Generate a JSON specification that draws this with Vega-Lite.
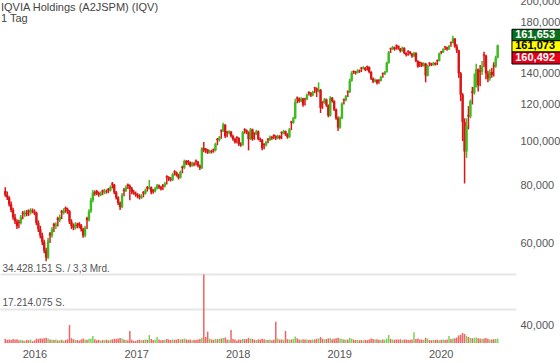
{
"$schema":"https://vega.github.io/schema/vega-lite/v6.json",
"width":516,"height":343,
"autosize":{"type":"none"},
"padding":{"left":0,"top":0,"right":44,"bottom":20},
"background":"white",
"config":{"locale":{"number":{"decimal":",","thousands":".","grouping":[3],"currency":["","€"]}},"view":{"stroke":null},"font":"Liberation Sans"},
"title":{"text":["IQVIA Holdings (A2JSPM) (IQV)","1 Tag"],"anchor":"start","frame":"group","orient":"top","offset":-37,"dx":1,"fontSize":11,"fontWeight":"normal","color":"#444","lineHeight":11,"font":"Liberation Sans","baseline":"alphabetic"},
"datasets":{
"badge":[{"k":"h","p":161.653,"d":"2020-07-24"},{"k":"c","p":161.073,"d":"2020-07-24"},{"k":"l","p":160.492,"d":"2020-07-24"}],
"ohlc":[
{"d":"2015-09-18","o":78,"h":79.5,"l":75.8,"c":76.5,"v":2100000},
{"d":"2015-09-25","o":76.5,"h":77.8,"l":74.6,"c":75.5,"v":1600000},
{"d":"2015-10-02","o":75.5,"h":76,"l":72.2,"c":73,"v":1800000},
{"d":"2015-10-09","o":73,"h":74,"l":70.2,"c":71,"v":1500000},
{"d":"2015-10-16","o":71,"h":71.8,"l":67.6,"c":68.5,"v":2000000},
{"d":"2015-10-23","o":68.5,"h":69.6,"l":66.2,"c":67,"v":1700000},
{"d":"2015-10-30","o":67,"h":67.8,"l":64.6,"c":65.5,"v":1900000},
{"d":"2015-11-06","o":67,"h":67.6,"l":64.8,"c":66.5,"v":1400000},
{"d":"2015-11-13","o":66.5,"h":69.2,"l":66,"c":68.5,"v":1600000},
{"d":"2015-11-20","o":70,"h":70.6,"l":67.8,"c":69.5,"v":1300000},
{"d":"2015-11-27","o":69.5,"h":70.8,"l":68.6,"c":70,"v":1100000},
{"d":"2015-12-04","o":70,"h":71,"l":68.8,"c":69.5,"v":1500000},
{"d":"2015-12-11","o":70.8,"h":71.2,"l":68.9,"c":70.2,"v":1400000},
{"d":"2015-12-18","o":70.2,"h":71.6,"l":69.4,"c":70.8,"v":1700000},
{"d":"2015-12-25","o":70.8,"h":71.5,"l":69.8,"c":70.5,"v":900000},
{"d":"2016-01-01","o":70.5,"h":71.2,"l":69.2,"c":70,"v":1300000},
{"d":"2016-01-08","o":70,"h":70.4,"l":65.8,"c":66.5,"v":2200000},
{"d":"2016-01-15","o":66.5,"h":67.4,"l":63.6,"c":64.5,"v":2000000},
{"d":"2016-01-22","o":64.5,"h":65.6,"l":61.6,"c":62.5,"v":2300000},
{"d":"2016-01-29","o":62.5,"h":63.4,"l":59.6,"c":60.5,"v":2100000},
{"d":"2016-02-05","o":60.5,"h":61.2,"l":57.2,"c":58,"v":2400000},
{"d":"2016-02-12","o":58,"h":58.8,"l":55,"c":56,"v":2600000},
{"d":"2016-02-19","o":56,"h":61.8,"l":55.6,"c":61,"v":2200000},
{"d":"2016-02-26","o":63.2,"h":63.6,"l":60.2,"c":62.5,"v":1800000},
{"d":"2016-03-04","o":62.5,"h":65.2,"l":61.8,"c":64.5,"v":1600000},
{"d":"2016-03-11","o":66.2,"h":66.6,"l":63.6,"c":65.5,"v":1500000},
{"d":"2016-03-18","o":65.5,"h":66.8,"l":64.6,"c":66,"v":1700000},
{"d":"2016-03-25","o":68.2,"h":68.6,"l":65.4,"c":67.5,"v":1300000},
{"d":"2016-04-01","o":67.5,"h":69.4,"l":66.8,"c":68.5,"v":1400000},
{"d":"2016-04-08","o":70.6,"h":71,"l":67.8,"c":70,"v":1600000},
{"d":"2016-04-15","o":70,"h":71.6,"l":69.4,"c":70.8,"v":1200000},
{"d":"2016-04-22","o":71.8,"h":72.2,"l":70,"c":71.2,"v":1500000},
{"d":"2016-04-29","o":71.2,"h":71.8,"l":69.6,"c":70.5,"v":1800000},
{"d":"2016-05-06","o":70.5,"h":71,"l":66.2,"c":67,"v":9000000},
{"d":"2016-05-13","o":67,"h":67.8,"l":64.6,"c":65.5,"v":2400000},
{"d":"2016-05-20","o":65.5,"h":66.4,"l":64.2,"c":65,"v":1900000},
{"d":"2016-05-27","o":65,"h":66.8,"l":64.4,"c":66,"v":1600000},
{"d":"2016-06-03","o":66,"h":66.6,"l":64.8,"c":65.5,"v":1500000},
{"d":"2016-06-10","o":66.4,"h":66.8,"l":64.8,"c":65.8,"v":1300000},
{"d":"2016-06-17","o":65.8,"h":66.2,"l":63.8,"c":64.5,"v":1700000},
{"d":"2016-06-24","o":64.5,"h":65,"l":61.8,"c":62.5,"v":2200000},
{"d":"2016-07-01","o":62.5,"h":65.6,"l":62,"c":65,"v":1800000},
{"d":"2016-07-08","o":68.2,"h":68.6,"l":64.6,"c":67.5,"v":1600000},
{"d":"2016-07-15","o":67.5,"h":71.2,"l":67,"c":70.5,"v":2000000},
{"d":"2016-07-22","o":70.5,"h":75.4,"l":70,"c":74.5,"v":2300000},
{"d":"2016-07-29","o":74.5,"h":78.4,"l":73.8,"c":77.5,"v":3500000},
{"d":"2016-08-05","o":77.5,"h":78.2,"l":76.2,"c":77,"v":1900000},
{"d":"2016-08-12","o":78,"h":78.4,"l":76.4,"c":77.3,"v":1400000},
{"d":"2016-08-19","o":77.3,"h":77.8,"l":75.8,"c":76.5,"v":1600000},
{"d":"2016-08-26","o":76.5,"h":77.8,"l":76,"c":77,"v":1200000},
{"d":"2016-09-02","o":78.2,"h":78.6,"l":76.4,"c":77.5,"v":1500000},
{"d":"2016-09-09","o":77.5,"h":78.8,"l":76.8,"c":78,"v":1400000},
{"d":"2016-09-16","o":78,"h":78.6,"l":77,"c":77.8,"v":1700000},
{"d":"2016-09-23","o":78.9,"h":79.2,"l":77.2,"c":78.2,"v":1300000},
{"d":"2016-09-30","o":78.2,"h":80.2,"l":77.8,"c":79.5,"v":1600000},
{"d":"2016-10-07","o":81,"h":81.6,"l":79,"c":80.5,"v":1800000},
{"d":"2016-10-14","o":80.5,"h":80.8,"l":76.8,"c":77.5,"v":2100000},
{"d":"2016-10-21","o":77.5,"h":78,"l":74.8,"c":75.5,"v":2000000},
{"d":"2016-10-28","o":75.5,"h":76,"l":72.8,"c":73.5,"v":2200000},
{"d":"2016-11-04","o":73.5,"h":74,"l":71,"c":72,"v":2500000},
{"d":"2016-11-11","o":72,"h":77.2,"l":71.6,"c":76.5,"v":2300000},
{"d":"2016-11-18","o":78.6,"h":79.2,"l":76,"c":78,"v":1700000},
{"d":"2016-11-25","o":78,"h":80.2,"l":77.6,"c":79.5,"v":1500000},
{"d":"2016-12-02","o":80.6,"h":81,"l":78.8,"c":80,"v":1400000},
{"d":"2016-12-09","o":80,"h":80.6,"l":74.5,"c":79,"v":6000000},
{"d":"2016-12-16","o":79,"h":79.6,"l":76.8,"c":77.5,"v":1600000},
{"d":"2016-12-23","o":77.5,"h":78.4,"l":76.6,"c":77,"v":1100000},
{"d":"2016-12-30","o":77,"h":77.8,"l":75.8,"c":76.5,"v":1000000},
{"d":"2017-01-06","o":76.5,"h":77.2,"l":75.2,"c":76,"v":1500000},
{"d":"2017-01-13","o":76,"h":76.8,"l":74.8,"c":75.5,"v":1700000},
{"d":"2017-01-20","o":75.5,"h":76.8,"l":75,"c":76,"v":1400000},
{"d":"2017-01-27","o":77.6,"h":78,"l":75.6,"c":77,"v":1500000},
{"d":"2017-02-03","o":77,"h":79,"l":76.6,"c":78.3,"v":1800000},
{"d":"2017-02-10","o":79.6,"h":80,"l":77.8,"c":79,"v":1600000},
{"d":"2017-02-17","o":79,"h":82.4,"l":78.6,"c":79.5,"v":4000000},
{"d":"2017-02-24","o":79.5,"h":79.8,"l":76.8,"c":77.5,"v":2000000},
{"d":"2017-03-03","o":78.4,"h":78.8,"l":77,"c":77.8,"v":1500000},
{"d":"2017-03-10","o":77.8,"h":79.6,"l":77.4,"c":79,"v":1600000},
{"d":"2017-03-17","o":79,"h":80.8,"l":78.6,"c":80.2,"v":3000000},
{"d":"2017-03-24","o":80.2,"h":80.6,"l":78.8,"c":79.5,"v":1700000},
{"d":"2017-03-31","o":79.5,"h":80,"l":78.2,"c":78.8,"v":1400000},
{"d":"2017-04-07","o":80.4,"h":80.8,"l":78.4,"c":79.8,"v":1500000},
{"d":"2017-04-14","o":79.8,"h":81.6,"l":79.4,"c":81,"v":1600000},
{"d":"2017-04-21","o":84,"h":84.4,"l":80.6,"c":83.5,"v":2000000},
{"d":"2017-04-28","o":83.5,"h":84,"l":82,"c":82.8,"v":1700000},
{"d":"2017-05-05","o":82.8,"h":83.6,"l":81.8,"c":82.4,"v":1500000},
{"d":"2017-05-12","o":82.4,"h":85.4,"l":82,"c":84.8,"v":1800000},
{"d":"2017-05-19","o":86.1,"h":86.5,"l":84.2,"c":85.5,"v":1600000},
{"d":"2017-05-26","o":85.5,"h":86,"l":83.8,"c":84.5,"v":1700000},
{"d":"2017-06-02","o":84.5,"h":85,"l":82.6,"c":83.3,"v":2000000},
{"d":"2017-06-09","o":83.3,"h":86.4,"l":83,"c":85.8,"v":1800000},
{"d":"2017-06-16","o":88.1,"h":88.5,"l":85.2,"c":87.5,"v":1900000},
{"d":"2017-06-23","o":87.5,"h":91.2,"l":87,"c":90.5,"v":2200000},
{"d":"2017-06-30","o":90.5,"h":91,"l":88.8,"c":89.5,"v":1800000},
{"d":"2017-07-07","o":90.6,"h":91,"l":88.8,"c":90,"v":1500000},
{"d":"2017-07-14","o":90,"h":90.4,"l":87.8,"c":88.5,"v":1700000},
{"d":"2017-07-21","o":88.5,"h":90.2,"l":88,"c":89.5,"v":1400000},
{"d":"2017-07-28","o":89.5,"h":90,"l":88.2,"c":89,"v":1600000},
{"d":"2017-08-04","o":90.8,"h":91.2,"l":88.6,"c":90.2,"v":1500000},
{"d":"2017-08-11","o":90.2,"h":90.6,"l":87.8,"c":88.5,"v":1800000},
{"d":"2017-08-18","o":88.5,"h":89,"l":86.6,"c":87.5,"v":2000000},
{"d":"2017-08-25","o":87.5,"h":97,"l":87,"c":96.5,"v":2600000},
{"d":"2017-09-01","o":96.5,"h":99.5,"l":94.6,"c":95.5,"v":34428151},
{"d":"2017-09-08","o":96.3,"h":96.6,"l":94.2,"c":95.8,"v":3000000},
{"d":"2017-09-15","o":95.8,"h":96.2,"l":93.8,"c":94.5,"v":5700000},
{"d":"2017-09-22","o":94.5,"h":95.8,"l":94,"c":95.2,"v":2200000},
{"d":"2017-09-29","o":95.2,"h":95.8,"l":94,"c":94.8,"v":1800000},
{"d":"2017-10-06","o":96.1,"h":96.4,"l":94.4,"c":95.5,"v":1600000},
{"d":"2017-10-13","o":95.5,"h":99.2,"l":95,"c":98.5,"v":2000000},
{"d":"2017-10-20","o":101.1,"h":101.6,"l":98,"c":100.5,"v":1900000},
{"d":"2017-10-27","o":100.5,"h":102.6,"l":99.8,"c":101.8,"v":2100000},
{"d":"2017-11-03","o":105.6,"h":106,"l":101.2,"c":105,"v":2300000},
{"d":"2017-11-10","o":105,"h":109.6,"l":104.6,"c":108.5,"v":2500000},
{"d":"2017-11-17","o":108.5,"h":108.8,"l":101.6,"c":102.5,"v":2800000},
{"d":"2017-11-24","o":104.8,"h":105.2,"l":102,"c":104.2,"v":1700000},
{"d":"2017-12-01","o":104.2,"h":105.6,"l":103.4,"c":104.8,"v":1600000},
{"d":"2017-12-08","o":104.8,"h":105.2,"l":101.8,"c":102.5,"v":6500000},
{"d":"2017-12-15","o":102.5,"h":103.2,"l":100.2,"c":101,"v":2000000},
{"d":"2017-12-22","o":101,"h":101.6,"l":98.8,"c":99.5,"v":1700000},
{"d":"2017-12-29","o":102.1,"h":102.5,"l":99,"c":101.5,"v":1300000},
{"d":"2018-01-05","o":101.5,"h":102,"l":97.6,"c":98.5,"v":1800000},
{"d":"2018-01-12","o":98.5,"h":99.4,"l":97.2,"c":98,"v":1600000},
{"d":"2018-01-19","o":98,"h":105.2,"l":97.8,"c":104.5,"v":2100000},
{"d":"2018-01-26","o":106.1,"h":106.6,"l":103.8,"c":105.5,"v":1900000},
{"d":"2018-02-02","o":105.5,"h":106,"l":103.6,"c":104.5,"v":2000000},
{"d":"2018-02-09","o":104.5,"h":105,"l":95.5,"c":101,"v":2600000},
{"d":"2018-02-16","o":101,"h":106.8,"l":100.6,"c":106,"v":2200000},
{"d":"2018-02-23","o":106,"h":106.4,"l":100.2,"c":101,"v":2000000},
{"d":"2018-03-02","o":104.1,"h":104.5,"l":100.6,"c":103.5,"v":1700000},
{"d":"2018-03-09","o":103.5,"h":105.8,"l":103,"c":105,"v":1500000},
{"d":"2018-03-16","o":105,"h":105.4,"l":100.4,"c":101,"v":1800000},
{"d":"2018-03-23","o":101,"h":101.8,"l":99.6,"c":100.5,"v":1700000},
{"d":"2018-03-30","o":100.5,"h":101,"l":95.6,"c":96.5,"v":2100000},
{"d":"2018-04-06","o":98.6,"h":99,"l":96,"c":98,"v":1900000},
{"d":"2018-04-13","o":98,"h":100.2,"l":97.4,"c":99.5,"v":1600000},
{"d":"2018-04-20","o":101.1,"h":101.5,"l":99,"c":100.5,"v":1500000},
{"d":"2018-04-27","o":100.5,"h":102.8,"l":100,"c":102,"v":1700000},
{"d":"2018-05-04","o":102,"h":102.6,"l":100.6,"c":101.5,"v":1400000},
{"d":"2018-05-11","o":103.1,"h":103.5,"l":101,"c":102.5,"v":1600000},
{"d":"2018-05-18","o":102.5,"h":103,"l":100.6,"c":101.5,"v":10700000},
{"d":"2018-05-25","o":101.5,"h":103.2,"l":101,"c":102.5,"v":2200000},
{"d":"2018-06-01","o":102.5,"h":103,"l":100.8,"c":101.5,"v":1700000},
{"d":"2018-06-08","o":104.6,"h":105,"l":101,"c":104,"v":1800000},
{"d":"2018-06-15","o":104,"h":105.8,"l":103.4,"c":105,"v":1600000},
{"d":"2018-06-22","o":105,"h":105.4,"l":102.6,"c":103.5,"v":6000000},
{"d":"2018-06-29","o":103.5,"h":104,"l":101.2,"c":102,"v":1900000},
{"d":"2018-07-06","o":102,"h":106.8,"l":101.6,"c":106,"v":1700000},
{"d":"2018-07-13","o":110.2,"h":110.6,"l":105.6,"c":109.5,"v":1800000},
{"d":"2018-07-20","o":109.5,"h":112.8,"l":109,"c":112,"v":2000000},
{"d":"2018-07-27","o":112,"h":123.5,"l":111.6,"c":121.5,"v":3200000},
{"d":"2018-08-03","o":124.2,"h":124.8,"l":120.8,"c":123.5,"v":2400000},
{"d":"2018-08-10","o":123.5,"h":124.2,"l":121,"c":122,"v":1800000},
{"d":"2018-08-17","o":122,"h":124.4,"l":121.4,"c":123.5,"v":1600000},
{"d":"2018-08-24","o":123.5,"h":124,"l":118.6,"c":119.8,"v":1900000},
{"d":"2018-08-31","o":123.6,"h":124,"l":119.4,"c":123,"v":1700000},
{"d":"2018-09-07","o":123,"h":126.8,"l":122.6,"c":126,"v":1800000},
{"d":"2018-09-14","o":127.7,"h":128.1,"l":125.4,"c":127,"v":1500000},
{"d":"2018-09-21","o":127,"h":127.6,"l":124.6,"c":125.5,"v":1600000},
{"d":"2018-09-28","o":125.5,"h":128.4,"l":125,"c":127.5,"v":1700000},
{"d":"2018-10-05","o":130.6,"h":131,"l":127,"c":130,"v":1800000},
{"d":"2018-10-12","o":130,"h":130.6,"l":124.5,"c":128,"v":2100000},
{"d":"2018-10-19","o":128,"h":134,"l":127.4,"c":129,"v":2300000},
{"d":"2018-10-26","o":129,"h":129.6,"l":115,"c":118,"v":3000000},
{"d":"2018-11-02","o":121.6,"h":122,"l":117.4,"c":121,"v":2200000},
{"d":"2018-11-09","o":121,"h":124,"l":120.4,"c":123,"v":1800000},
{"d":"2018-11-16","o":123,"h":123.6,"l":118.6,"c":119.5,"v":2000000},
{"d":"2018-11-23","o":119.5,"h":120,"l":112.6,"c":113.5,"v":2300000},
{"d":"2018-11-30","o":113.5,"h":125,"l":113,"c":124,"v":2500000},
{"d":"2018-12-07","o":124,"h":124.6,"l":121.2,"c":122,"v":1900000},
{"d":"2018-12-14","o":122,"h":122.6,"l":116.2,"c":117,"v":2100000},
{"d":"2018-12-21","o":117,"h":117.6,"l":111.2,"c":112,"v":2400000},
{"d":"2018-12-28","o":112,"h":113,"l":105.2,"c":107,"v":2600000},
{"d":"2019-01-04","o":107,"h":113,"l":106.4,"c":112,"v":2200000},
{"d":"2019-01-11","o":112,"h":121.4,"l":111.6,"c":120.5,"v":2000000},
{"d":"2019-01-18","o":123.2,"h":123.6,"l":120,"c":122.5,"v":1700000},
{"d":"2019-01-25","o":122.5,"h":125.8,"l":122,"c":125,"v":1600000},
{"d":"2019-02-01","o":128.2,"h":128.6,"l":124.6,"c":127.5,"v":1800000},
{"d":"2019-02-08","o":127.5,"h":136.4,"l":127,"c":135,"v":2600000},
{"d":"2019-02-15","o":135,"h":141.6,"l":134.4,"c":140.5,"v":2200000},
{"d":"2019-02-22","o":141.7,"h":142.2,"l":139.6,"c":141,"v":1700000},
{"d":"2019-03-01","o":141,"h":141.8,"l":139.2,"c":140.5,"v":1500000},
{"d":"2019-03-08","o":140.5,"h":143,"l":140,"c":142,"v":1600000},
{"d":"2019-03-15","o":142,"h":142.8,"l":140.4,"c":141.5,"v":1400000},
{"d":"2019-03-22","o":144.2,"h":144.6,"l":141,"c":143.5,"v":1500000},
{"d":"2019-03-29","o":143.5,"h":145.2,"l":142.8,"c":144,"v":1300000},
{"d":"2019-04-05","o":144,"h":144.6,"l":141.6,"c":142.5,"v":1600000},
{"d":"2019-04-12","o":145.2,"h":145.6,"l":142,"c":144.5,"v":1400000},
{"d":"2019-04-19","o":144.5,"h":145,"l":140.2,"c":141,"v":1800000},
{"d":"2019-04-26","o":141,"h":141.6,"l":135.6,"c":136.5,"v":2200000},
{"d":"2019-05-03","o":136.5,"h":137.2,"l":133.6,"c":134.5,"v":2000000},
{"d":"2019-05-10","o":134.5,"h":136.6,"l":134,"c":135.5,"v":1700000},
{"d":"2019-05-17","o":135.5,"h":136,"l":132.6,"c":133.5,"v":1900000},
{"d":"2019-05-24","o":135.7,"h":136.1,"l":133,"c":135,"v":1600000},
{"d":"2019-05-31","o":135,"h":138.4,"l":134.6,"c":137.5,"v":1500000},
{"d":"2019-06-07","o":140.2,"h":140.6,"l":137,"c":139.5,"v":1700000},
{"d":"2019-06-14","o":139.5,"h":141.8,"l":139,"c":141,"v":1600000},
{"d":"2019-06-21","o":141,"h":148.4,"l":140.6,"c":147.5,"v":2200000},
{"d":"2019-06-28","o":147.5,"h":156.6,"l":147,"c":155.5,"v":4000000},
{"d":"2019-07-05","o":158.7,"h":159.2,"l":155,"c":158,"v":2000000},
{"d":"2019-07-12","o":158,"h":160.6,"l":157.4,"c":159.5,"v":1700000},
{"d":"2019-07-19","o":159.5,"h":160,"l":156.8,"c":158,"v":1600000},
{"d":"2019-07-26","o":161.2,"h":161.8,"l":157.6,"c":160.5,"v":1800000},
{"d":"2019-08-02","o":160.5,"h":161,"l":157.6,"c":158.5,"v":1700000},
{"d":"2019-08-09","o":158.5,"h":159,"l":155.4,"c":156.5,"v":1900000},
{"d":"2019-08-16","o":156.5,"h":160,"l":156,"c":159,"v":1500000},
{"d":"2019-08-23","o":159,"h":159.6,"l":154,"c":155,"v":1800000},
{"d":"2019-08-30","o":155,"h":155.6,"l":152.4,"c":153.5,"v":1700000},
{"d":"2019-09-06","o":156.7,"h":157.1,"l":153,"c":156,"v":1500000},
{"d":"2019-09-13","o":156,"h":156.6,"l":153.6,"c":154.5,"v":1600000},
{"d":"2019-09-20","o":154.5,"h":155,"l":151.4,"c":152.5,"v":1800000},
{"d":"2019-09-27","o":152.5,"h":156,"l":152,"c":155,"v":5400000},
{"d":"2019-10-04","o":155,"h":155.6,"l":148,"c":149,"v":2000000},
{"d":"2019-10-11","o":149,"h":149.6,"l":144,"c":145,"v":2200000},
{"d":"2019-10-18","o":148.2,"h":148.6,"l":144.6,"c":147.5,"v":1800000},
{"d":"2019-10-25","o":147.5,"h":148,"l":144.6,"c":145.5,"v":1700000},
{"d":"2019-11-01","o":145.5,"h":148,"l":145,"c":147,"v":1600000},
{"d":"2019-11-08","o":147,"h":147.6,"l":134,"c":138.5,"v":2600000},
{"d":"2019-11-15","o":138.5,"h":146.4,"l":138,"c":145.5,"v":2200000},
{"d":"2019-11-22","o":147.7,"h":148.1,"l":145,"c":147,"v":1500000},
{"d":"2019-11-29","o":147,"h":147.6,"l":145.2,"c":146,"v":1400000},
{"d":"2019-12-06","o":146,"h":148.4,"l":145.6,"c":147.5,"v":1600000},
{"d":"2019-12-13","o":147.5,"h":148,"l":145.6,"c":146.5,"v":1500000},
{"d":"2019-12-20","o":149.7,"h":150.1,"l":146,"c":149,"v":1700000},
{"d":"2019-12-27","o":149,"h":155.4,"l":148.6,"c":154.5,"v":1400000},
{"d":"2020-01-03","o":156.2,"h":156.6,"l":154,"c":155.5,"v":1600000},
{"d":"2020-01-10","o":155.5,"h":158.8,"l":155,"c":158,"v":1700000},
{"d":"2020-01-17","o":160.2,"h":160.6,"l":157.4,"c":159.5,"v":1500000},
{"d":"2020-01-24","o":159.5,"h":160,"l":156.8,"c":158,"v":1800000},
{"d":"2020-01-31","o":158,"h":161.4,"l":157.4,"c":160.5,"v":3500000},
{"d":"2020-02-07","o":163.7,"h":164.1,"l":160,"c":163,"v":2000000},
{"d":"2020-02-14","o":163,"h":169,"l":162.6,"c":166.5,"v":2200000},
{"d":"2020-02-21","o":166.5,"h":167,"l":159.2,"c":160,"v":2400000},
{"d":"2020-02-28","o":160,"h":162,"l":155,"c":157,"v":2800000},
{"d":"2020-03-06","o":157,"h":157.6,"l":137,"c":140,"v":3800000},
{"d":"2020-03-13","o":140,"h":141,"l":122,"c":126,"v":4200000},
{"d":"2020-03-20","o":126,"h":127,"l":100,"c":110,"v":5000000},
{"d":"2020-03-27","o":110,"h":112,"l":81,"c":95,"v":4500000},
{"d":"2020-04-03","o":95,"h":112,"l":92,"c":108,"v":3600000},
{"d":"2020-04-10","o":114,"h":119,"l":106,"c":113,"v":3000000},
{"d":"2020-04-17","o":113,"h":123,"l":112,"c":122,"v":2600000},
{"d":"2020-04-24","o":128,"h":131,"l":120,"c":127,"v":2400000},
{"d":"2020-05-01","o":127,"h":140,"l":126,"c":131,"v":2500000},
{"d":"2020-05-08","o":131,"h":147,"l":130.5,"c":143,"v":2700000},
{"d":"2020-05-15","o":143,"h":143.6,"l":128,"c":132,"v":2400000},
{"d":"2020-05-22","o":142,"h":146,"l":131.4,"c":141,"v":2200000},
{"d":"2020-05-29","o":141,"h":149,"l":139,"c":145,"v":2000000},
{"d":"2020-06-05","o":154,"h":156,"l":144.6,"c":153,"v":2300000},
{"d":"2020-06-12","o":153,"h":153.6,"l":136,"c":140,"v":2500000},
{"d":"2020-06-19","o":140,"h":142,"l":134,"c":136.5,"v":2100000},
{"d":"2020-06-26","o":136.5,"h":143,"l":135,"c":141,"v":1800000},
{"d":"2020-07-03","o":141,"h":144,"l":137,"c":139,"v":1700000},
{"d":"2020-07-10","o":146,"h":148,"l":138,"c":145,"v":1900000},
{"d":"2020-07-17","o":145,"h":153,"l":144,"c":151.5,"v":2000000},
{"d":"2020-07-24","o":151.5,"h":161.653,"l":151,"c":161.073,"v":2200000}
]},
"layer":[
{"data":{"name":"ohlc"},
 "mark":{"type":"bar","width":1.5},
 "encoding":{
  "x":{"field":"d","type":"temporal","scale":{"domain":["2015-09-17","2020-09-10"]},"axis":{"title":null,"format":"%Y","tickCount":"year","ticks":false,"tickSize":0,"domain":false,"grid":false,"labelPadding":5,"labelFontSize":11,"labelColor":"#555","labelFlush":false,"labelOverlap":false,"labelFont":"Liberation Sans"}},
  "y":{"field":"v","type":"quantitative","scale":{"domain":[0,172140755],"nice":false,"zero":true},"axis":{"title":null,"orient":"left","values":[17214075,34428151],"grid":true,"gridColor":"#e6e6e6","gridWidth":2,"domain":false,"ticks":false,"tickSize":0,"labelAlign":"left","labelBaseline":"alphabetic","labelPadding":-2,"labelOffset":-3,"labelFontSize":10,"labelColor":"#555","labelFont":"Liberation Sans","labelExpr":"datum.value > 30000000 ? '34.428.151 S. / 3,3 Mrd.' : '17.214.075 S.'"}},
  "color":{"condition":{"test":"datum.c >= datum.o","value":"#72d455"},"value":"#f06464"}
 }},
{"layer":[
 {"data":{"name":"ohlc"},
  "mark":{"type":"rule","strokeWidth":1.5},
  "encoding":{
   "x":{"field":"d","type":"temporal"},
   "y":{"field":"l","type":"quantitative","scale":{"type":"log","domain":[36.62,201.8],"nice":false,"zero":false},"axis":{"title":null,"orient":"right","values":[40,60,80,100,120,140,160,180,200],"format":",.3f","grid":false,"domain":false,"ticks":false,"tickSize":0,"labelPadding":4,"labelFontSize":11,"labelColor":"#555","labelOverlap":false,"labelFont":"Liberation Sans"}},
   "y2":{"field":"h"},
   "color":{"condition":{"test":"datum.c >= datum.o","value":"#3dbb1f"},"value":"#dd1414"}
  }},
 {"data":{"name":"ohlc"},
  "mark":{"type":"bar","width":2.4},
  "encoding":{
   "x":{"field":"d","type":"temporal"},
   "y":{"field":"o","type":"quantitative"},
   "y2":{"field":"c"},
   "color":{"condition":{"test":"datum.c >= datum.o","value":"#3dbb1f"},"value":"#dd1414"}
  }},
 {"data":{"name":"badge"},
  "mark":{"type":"point","filled":true,"size":400,"opacity":1,"stroke":"#000","strokeWidth":1},
  "encoding":{
   "x":{"field":"d","type":"temporal"},
   "y":{"field":"p","type":"quantitative"},
   "shape":{"field":"k","type":"nominal","scale":{"domain":["h","c","l"],"range":["M1.43,-1.53L6.5,-1.53L6.5,-0.39L1.43,-0.39Z","M1.43,-0.46L6.5,-0.46L6.5,0.67L1.43,0.67Z","M1.43,0.6L6.5,0.6L6.5,1.8L1.43,1.8Z"]},"legend":null},
   "fill":{"field":"k","type":"nominal","scale":{"domain":["h","c","l"],"range":["#0b6e1f","#ffff00","#e2001a"]},"legend":null}
  }},
 {"data":{"name":"badge"},"transform":[{"filter":"datum.k == 'h'"}],
  "mark":{"type":"text","align":"left","baseline":"middle","dx":17.6,"dy":-9.6,"fontSize":11,"fontWeight":"bold","color":"#ffffff","font":"Liberation Sans"},
  "encoding":{"x":{"field":"d","type":"temporal"},"y":{"field":"p","type":"quantitative"},"text":{"field":"p","type":"quantitative","format":",.3f"}}},
 {"data":{"name":"badge"},"transform":[{"filter":"datum.k == 'c'"}],
  "mark":{"type":"text","align":"left","baseline":"middle","dx":17.6,"dy":1.1,"fontSize":11,"fontWeight":"bold","color":"#000000","font":"Liberation Sans"},
  "encoding":{"x":{"field":"d","type":"temporal"},"y":{"field":"p","type":"quantitative"},"text":{"field":"p","type":"quantitative","format":",.3f"}}},
 {"data":{"name":"badge"},"transform":[{"filter":"datum.k == 'l'"}],
  "mark":{"type":"text","align":"left","baseline":"middle","dx":17.6,"dy":12,"fontSize":11,"fontWeight":"bold","color":"#ffffff","font":"Liberation Sans"},
  "encoding":{"x":{"field":"d","type":"temporal"},"y":{"field":"p","type":"quantitative"},"text":{"field":"p","type":"quantitative","format":",.3f"}}}
]}
],
"resolve":{"scale":{"y":"independent","shape":"independent","fill":"independent","color":"independent"}}
}
